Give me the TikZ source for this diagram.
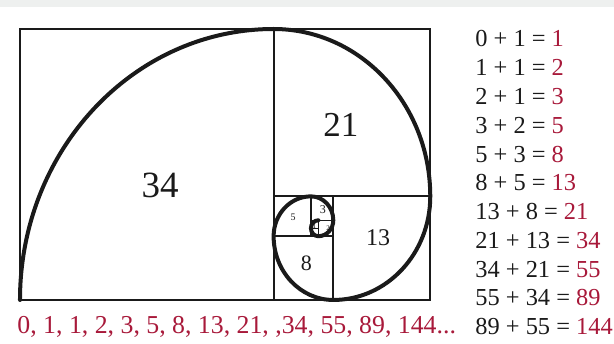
\documentclass[tikz,border=0pt]{standalone}
\usepackage{fontspec}
\setmainfont{Liberation Serif}
\usepackage{xcolor}
\definecolor{cInk}{HTML}{1A1A1A}
\definecolor{cRed}{HTML}{A8193A}
\definecolor{cEdge}{HTML}{EEF0EF}
\usetikzlibrary{positioning}
\tikzset{
  sq-line/.style={draw=cInk,line width=1pt},
  sq-thin/.style={draw=cInk,line width=0.7pt},
  spiral-line/.style={draw=cInk,line width=2pt,line cap=round},
  sq-label/.style={text=cInk,inner sep=0pt},
  eq-text/.style={anchor=west,inner sep=0pt,font=\fontsize{12.2}{14}\selectfont,text=cInk},
  seq-text/.style={anchor=west,inner sep=0pt,font=\fontsize{12.9}{15}\selectfont,text=cRed},
}

\begin{document}
\begin{tikzpicture}[x=3.73pt,y=3.985pt]
  \useasboundingbox (-2.68,-5.40) rectangle (79.63,37.64);
  \fill[cEdge] (-2.68,36.76) rectangle (79.63,37.64);
  % squares 34, 21, 13, 8, 5, 3, 2, 1, 1
  \draw[sq-line] (0,0) rectangle (55,34);
  \draw[sq-line] (34,0) -- (34,34);
  \draw[sq-line] (34,13) -- (55,13);
  \draw[sq-line] (42,0) -- (42,13);
  \draw[sq-line] (34,8) -- (42,8);
  \draw[sq-line] (39,8) -- (39,13);
  \draw[sq-thin] (39,10) -- (42,10);
  \draw[sq-thin] (40,8) -- (40,10);
  \draw[sq-thin] (39,9) -- (40,9);
  % spiral
  \draw[spiral-line] (0,0)
    arc[start angle=180,end angle=90,radius=34]
    arc[start angle=90,end angle=0,radius=21]
    arc[start angle=0,end angle=-90,radius=13]
    arc[start angle=-90,end angle=-180,radius=8]
    arc[start angle=180,end angle=90,radius=5]
    arc[start angle=90,end angle=0,radius=3]
    arc[start angle=0,end angle=-90,radius=2]
    arc[start angle=-90,end angle=-180,radius=1]
    arc[start angle=180,end angle=90,radius=1];
  \node[sq-label,font=\fontsize{18.5}{20}\selectfont] (n34) at (18.8,14.4) {34};
  \node[sq-label,font=\fontsize{17.5}{19}\selectfont] (n21) at (43.0,22.0) {21};
  \node[sq-label,font=\fontsize{12}{14}\selectfont] (n13) at (48.0,7.8) {13};
  \node[sq-label,font=\fontsize{11}{13}\selectfont] (n8) at (38.4,4.6) {8};
  \node[sq-label,font=\fontsize{5}{6}\selectfont] (n5) at (36.6,10.4) {5};
  \node[sq-label,font=\fontsize{6}{7}\selectfont] (n3) at (40.6,11.4) {3};
  \node[sq-label,font=\fontsize{3.5}{4}\selectfont] (n2) at (41.3,9.0) {2};
  \node[sq-label,font=\fontsize{3.5}{4}\selectfont] (n1) at (39.45,9.2) {1};
  % sums
  \foreach \a/\b/\c [count=\i from 0] in {0/1/1,1/1/2,2/1/3,3/2/5,5/3/8,8/5/13,
      13/8/21,21/13/34,34/21/55,55/34/89,89/55/144} {
    \node[eq-text] (eq\i) at (61,{32.75-3.61*\i}) {\a\ + \b\ = \textcolor{cRed}{\c}};
  }
  \node[seq-text] (seq) at (-0.4,-3.39) {0, 1, 1, 2, 3, 5, 8, 13, 21, ,34, 55, 89, 144...};
\end{tikzpicture}
\end{document}
